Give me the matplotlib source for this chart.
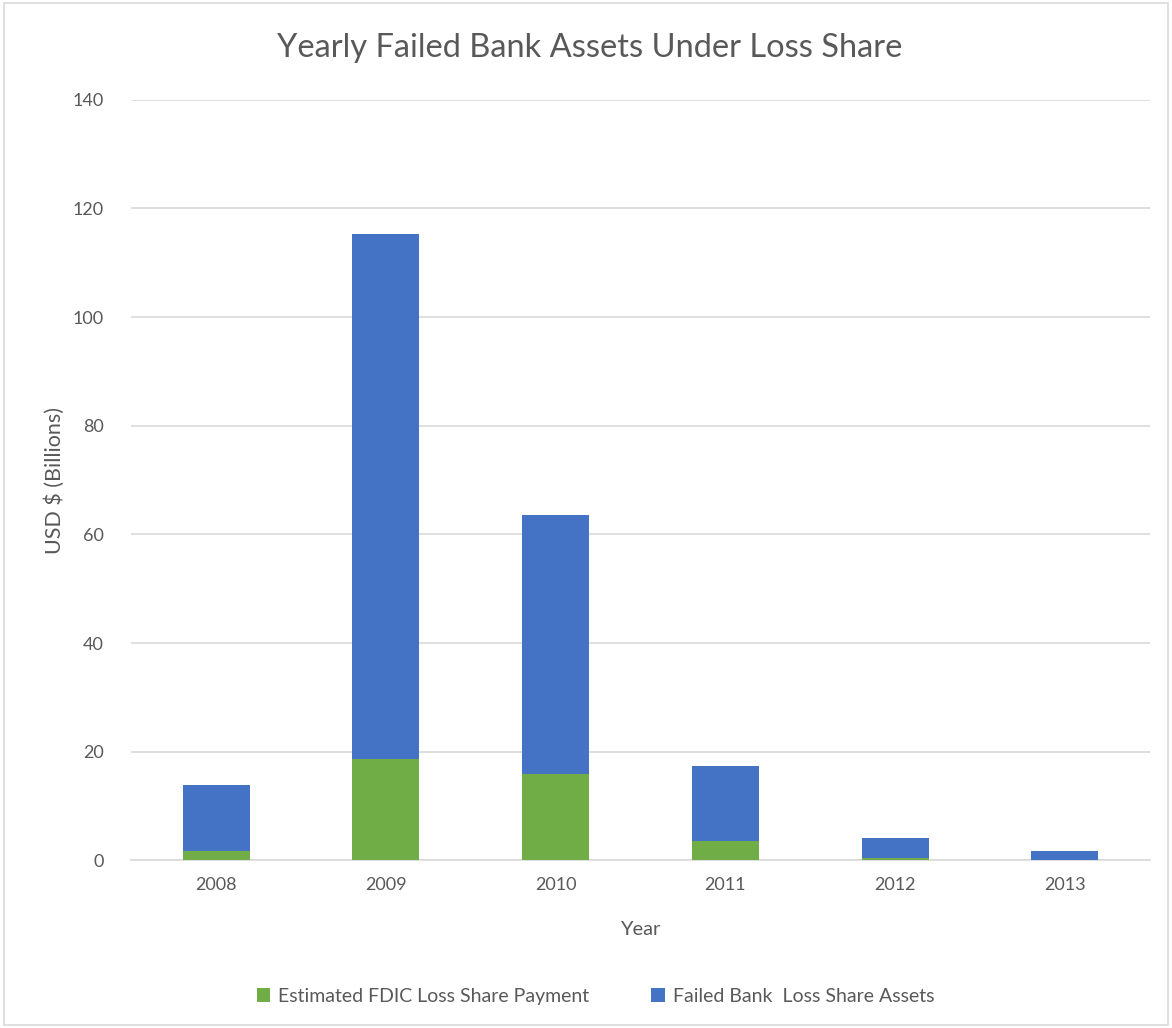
import numpy as np
import matplotlib.pyplot as plt
from matplotlib.patches import Rectangle

years = ['2008', '2009', '2010', '2011', '2012', '2013']
fdic_payment = [1.8, 18.7, 15.9, 3.5, 0.5, 0.1]
total_assets = [13.9, 115.2, 63.6, 17.3, 4.2, 1.8]
# blue part sits on top of the green part
loss_share_assets = [t - f for t, f in zip(total_assets, fdic_payment)]

plt.rcParams['font.family'] = ['Lato', 'DejaVu Sans']
grey = '#595959'

fig = plt.figure(figsize=(11.72, 10.28), dpi=100)
fig.patches.append(Rectangle((0.003, 0.003), 0.994, 0.994, transform=fig.transFigure,
                             fill=False, edgecolor='#D9D9D9', linewidth=1.2))
ax = fig.add_axes([0.112, 0.163, 0.869, 0.740])

x = np.arange(len(years))
barWidth = 0.395
ax.bar(x, fdic_payment, width=barWidth, color='#70AD47',
       label='Estimated FDIC Loss Share Payment', zorder=3)
ax.bar(x, loss_share_assets, width=barWidth, bottom=fdic_payment, color='#4472C4',
       label='Failed Bank  Loss Share Assets', zorder=3)

ax.set_xlim(-0.5, len(years) - 0.5)
ax.set_ylim(0, 140)
ax.set_yticks(np.arange(0, 141, 20))
ax.set_xticks(x)
ax.set_xticklabels(years)
ax.yaxis.grid(True, color='#D9D9D9', linewidth=1.2, zorder=0)
for s in ['top', 'right', 'left']:
    ax.spines[s].set_visible(False)
ax.spines['bottom'].set_color('#D9D9D9')
ax.spines['bottom'].set_linewidth(1.2)
ax.tick_params(axis='both', length=0, labelsize=13, colors=grey)
ax.tick_params(axis='x', pad=12)
ax.tick_params(axis='y', pad=20)

ax.set_xlabel('Year', fontsize=14.5, color=grey, labelpad=20)
ax.set_ylabel('USD $ (Billions)', fontsize=15.5, color=grey, labelpad=5)
fig.text(0.503, 0.953, 'Yearly Failed Bank Assets Under Loss Share',
         ha='center', va='center', fontsize=23.5, color=grey)

fig.legend(loc='center', bbox_to_anchor=(0.508, 0.031), ncol=2, frameon=False,
           fontsize=14, labelcolor=grey, handlelength=0.7, handleheight=0.7,
           columnspacing=3.2, handletextpad=0.4)

fig.savefig('out.png', dpi=100)
